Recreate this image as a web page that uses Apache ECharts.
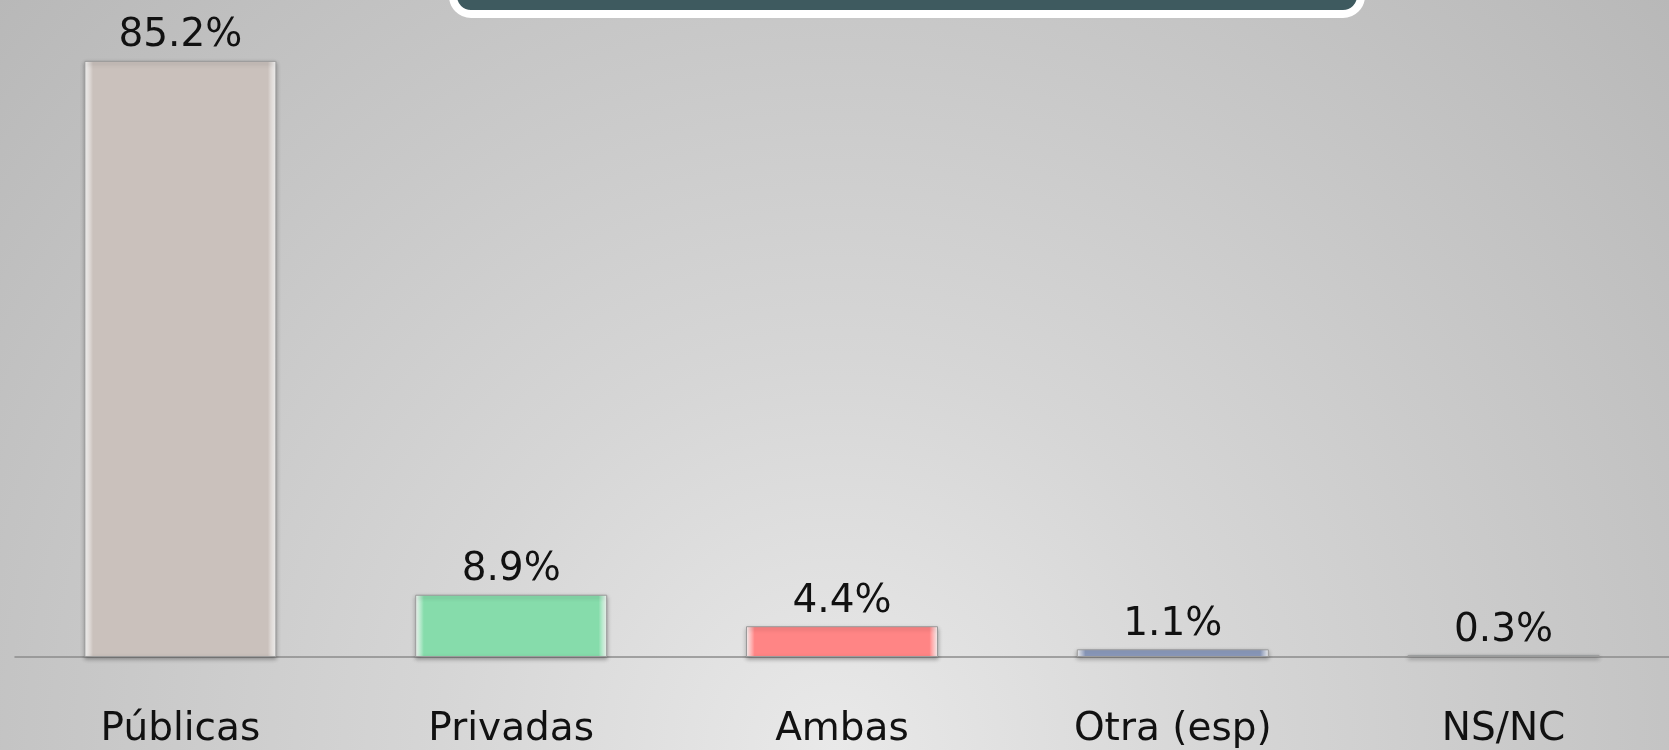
<!DOCTYPE html>
<html>
<head>
<meta charset="utf-8">
<script src="https://cdn.jsdelivr.net/npm/echarts@6/dist/echarts.min.js"></script>
<style>
  html, body { margin: 0; padding: 0; }
  #chart { width: 1669px; height: 750px; }
</style>
</head>
<body>
<div id="chart"></div>
<script>
  // data
  var categories = ['Públicas', 'Privadas', 'Ambas', 'Otra (esp)', 'NS/NC'];
  var values = [85.2, 8.9, 4.4, 1.1, 0.3];
  var barColors = ['#cac1bc', '#86dcab', '#ff8585', '#8c9bbd', '#8fd0e3'];

  var chart = echarts.init(document.getElementById('chart'));

  // bevelled look: light side edges fading into the base colour
  function bevel(c){
    return new echarts.graphic.LinearGradient(0, 0, 1, 0, [
      {offset: 0, color: '#ffffff'},
      {offset: 0.045, color: c},
      {offset: 0.955, color: c},
      {offset: 1, color: '#ffffff'}
    ]);
  }

  var option = {
    backgroundColor: new echarts.graphic.RadialGradient(0.5, 1, 1.5, [
      {offset: 0, color: '#e9e9e9'},
      {offset: 0.35, color: '#d6d6d6'},
      {offset: 0.65, color: '#c8c8c8'},
      {offset: 1, color: '#b8b8b8'}
    ]),
    textStyle: { fontFamily: 'DejaVu Sans' },
    graphic: [{
      type: 'rect',
      shape: { x: 453, y: -40, width: 908, height: 54, r: 18 },
      style: { fill: '#3e5a5f', stroke: '#ffffff', lineWidth: 8 },
      z: 10
    }],
    grid: { left: 15, right: -6, top: 0, bottom: 93, containLabel: false },
    xAxis: {
      type: 'category',
      data: categories,
      axisLine: { show: true, lineStyle: { color: '#8c8c8c', width: 1.5 } },
      axisTick: { show: false },
      axisLabel: {
        margin: 53,
        color: '#111111',
        fontSize: 39,
        fontFamily: 'DejaVu Sans'
      }
    },
    yAxis: {
      type: 'value',
      min: 0,
      max: 93.9,
      show: false,
      splitLine: { show: false }
    },
    series: [{
      type: 'bar',
      barWidth: 192,
      data: values.map(function(v, i){
        return {
          value: v,
          itemStyle: {
            color: bevel(barColors[i]),
            borderColor: '#9a9a9a',
            borderWidth: 1,
            shadowColor: 'rgba(0,0,0,0.3)',
            shadowBlur: 4,
            shadowOffsetY: 2
          }
        };
      }),
      label: {
        show: true,
        position: 'top',
        distance: 5,
        color: '#111111',
        fontSize: 39,
        fontFamily: 'DejaVu Sans',
        formatter: function(p){ return p.value.toFixed(1) + '%'; }
      }
    }]
  };
  chart.setOption(option);
</script>
</body>
</html>
